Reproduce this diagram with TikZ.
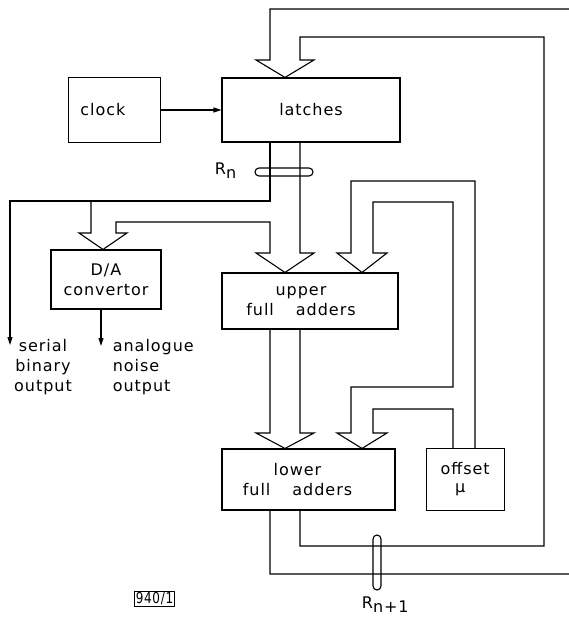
\documentclass[tikz,border=0pt]{standalone}
\usepackage{fontspec}
\setmainfont{DejaVu Sans}[LetterSpace=6]
\usetikzlibrary{arrows.meta,positioning}

\begin{document}
\begin{tikzpicture}[x=1pt,y=-1pt,line width=1.1pt,
    every node/.style={font=\fontsize{16}{20}\selectfont},
    box/.style={draw,inner sep=0pt},
    slot/.style={draw,rounded corners=4pt,inner sep=0pt},
    >={Triangle[length=8pt,width=5pt]}]
  \useasboundingbox (0,0) rectangle (568,620);
  % blocks
  \node[box,minimum width=178,minimum height=64] (latches) at (311,110) {latches};
  \node[box,minimum width=92,minimum height=65,left=60pt of latches,
    label={[xshift=-12pt]center:clock}] (clock) {};
  \node[box,minimum width=110,minimum height=59,align=center] (da) at (106,279.5) {D/A\\convertor};
  \node[box,minimum width=176,minimum height=56,
    label={[xshift=-9pt,align=center]center:upper\\full \quad adders}] (upper) at (310,301) {};
  \node[box,minimum width=173,minimum height=61,
    label={[xshift=-11pt,align=center]center:lower\\full \quad adders}] (lower) at (308.5,479.5) {};
  \node[box,minimum width=78,minimum height=62,right=30pt of lower,align=center,
    font=\fontsize{16}{18}\selectfont] (offset) {offset\\μ\hspace*{10pt}};
  % outputs
  \coordinate (sout) at (10,345);
  \coordinate (aout) at (101,346);
  \node[align=center] (serial) at (43,367) {serial\\binary\\output};
  \node[align=left,anchor=west] (analogue) at (109,367) {analogue\\noise\\output};
  \draw[->] (clock) -- (latches);
  \draw[->] (latches.south -| 270,0) -- (270,201) -- (10,201) -- (sout);
  \draw[->] (da.south -| aout) -- (aout);
  % bus from latches to D/A and upper adders
  \draw (91,201) -- (91,233) -- (79,233) -- (da.north -| 103,0) -- (127,233) -- (116,233)
    -- (116,222) -- (270,222) -- (270,253) -- (256,253) -- (upper.north -| 285,0)
    -- (314,253) -- (300,253) -- (latches.south -| 300,0);
  % upper adders to lower adders
  \draw (upper.south -| 270,0) -- (270,433) -- (256,433) -- (lower.north -| 285,0)
    -- (314,433) -- (300,433) -- (upper.south -| 300,0);
  % offset into both adders
  \draw (offset.north -| 475,0) -- (475,181) -- (351,181) -- (351,253) -- (337,253)
    -- (upper.north -| 362,0) -- (387,253) -- (373,253) -- (373,202) -- (453,202)
    -- (453,387) -- (351,387) -- (351,433) -- (337,433) -- (lower.north -| 362,0)
    -- (387,433) -- (373,433) -- (373,409) -- (453,409) -- (offset.north -| 453,0);
  % feedback to latches
  \draw (lower.south -| 270,0) -- (270,574) -- (590,574) -- (590,9) -- (270,9) -- (270,60)
    -- (256,60) -- (latches.north -| 285,0) -- (314,60) -- (300,60) -- (300,37)
    -- (544,37) -- (544,546) -- (300,546) -- (lower.south -| 300,0);
  % register marks
  \node[slot,minimum width=58,minimum height=8] (rn) at (284,172) {};
  \node[anchor=west] (rnlabel) at (211,171) {R\raisebox{-4pt}{n}};
  \node[slot,minimum width=8,minimum height=55] (rn1) at (377,562.5) {};
  \node[anchor=west] (rn1label) at (358,605) {R\raisebox{-4pt}{n+1}};
  \node[draw,line width=0.9pt,inner sep=0.5pt,minimum width=40,minimum height=15,
    font=\fontsize{15}{15}\selectfont] (fig) at (154.5,599) {\scalebox{0.8}[1]{940/1}};
\end{tikzpicture}
\end{document}
